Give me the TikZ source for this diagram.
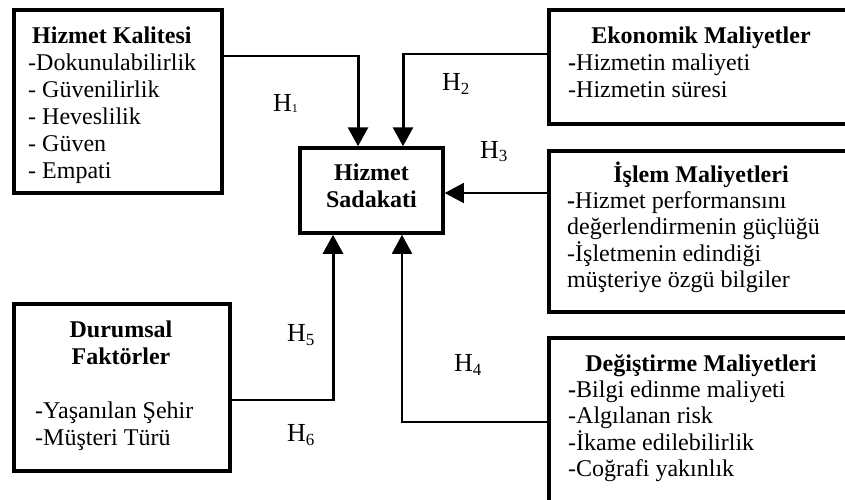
\documentclass[tikz,border=0pt]{standalone}
\usepackage{fontspec}
\setmainfont{Liberation Serif}
\usetikzlibrary{arrows.meta}
\newcommand{\txtblk}[2][27pt]{\parbox[t]{290pt}{\fontsize{24}{#1}\selectfont\raggedright #2}}
\newcommand{\ctrblk}[1]{\parbox[t]{220pt}{\fontsize{24}{27}\selectfont\centering\bfseries #1}}
\newcommand{\hyp}[1]{H\raisebox{-3.5pt}{\fontsize{17}{17}\selectfont #1}}
\begin{document}
\begin{tikzpicture}[x=1pt,y=-1pt,
  box/.style={draw, line width=3.5pt, inner sep=0pt, rectangle},
  txt/.style={inner sep=0pt, font=\fontsize{24}{27}\selectfont},
  hlab/.style={inner sep=0pt, anchor=base west, font=\fontsize{26}{28}\selectfont},
  thinl/.style={line width=1.3pt},
  medl/.style={line width=1.9pt},
  thickl/.style={line width=3pt},
  tip/.style={-{Triangle[width=20pt,length=19pt]}}]
\clip (0,0) rectangle (845,499);
\fill[white] (0,0) rectangle (845,499);
% boxes
\node[box, minimum width=208pt, minimum height=183pt] (HK) at (118,101.5) {};
\node[box, minimum width=143pt, minimum height=85pt] (SK) at (371.5,190.5) {};
\node[box, minimum width=216pt, minimum height=167pt] (DF) at (122,387.5) {};
\node[box, minimum width=304pt, minimum height=114pt] (EM) at (701,67) {};
\node[box, minimum width=304pt, minimum height=161pt] (IM) at (701,231.5) {};
\node[box, minimum width=304pt, minimum height=182pt] (DM) at (701,429) {};
% texts
\node[txt, anchor=base west] (HKt) at (32,43) {\textbf{Hizmet Kalitesi}};
\node[txt, anchor=base west] (HKi) at (28,70) {\txtblk{-Dokunulabilirlik\\- Güvenilirlik\\- Heveslilik\\- Güven\\- Empati}};
\node[txt, anchor=base] (SKt) at (371.5,180) {\ctrblk{Hizmet\\Sadakati}};
\node[txt, anchor=base] (DFt) at (121,337) {\ctrblk{Durumsal\\Faktörler}};
\node[txt, anchor=base west] (DFi) at (35,418) {\txtblk{-Yaşanılan Şehir\\-Müşteri Türü}};
\node[txt, anchor=base] (EMt) at (701,43) {\textbf{Ekonomik Maliyetler}};
\node[txt, anchor=base west] (EMi) at (568,70) {\txtblk{\textbf{-}Hizmetin maliyeti\\-Hizmetin süresi}};
\node[txt, anchor=base] (IMt) at (701,182.5) {\textbf{İşlem Maliyetleri}};
\node[txt, anchor=base west] (IMi) at (567,208.5) {\txtblk[26.3pt]{\textbf{-}Hizmet performansını\\değerlendirmenin güçlüğü\\-İşletmenin edindiği\\müşteriye özgü bilgiler}};
\node[txt, anchor=base] (DMt) at (701,371) {\textbf{Değiştirme Maliyetleri}};
\node[txt, anchor=base west] (DMi) at (568,397) {\txtblk[26.5pt]{\textbf{-}Bilgi edinme maliyeti\\-Algılanan risk\\-İkame edilebilirlik\\-Coğrafi yakınlık}};
% hypothesis labels
\node[hlab] (H1) at (273,111.7) {H\raisebox{-1pt}{\fontsize{12}{12}\selectfont 1}};
\node[hlab] (H2) at (442,90.7) {\hyp{2}};
\node[hlab] (H3) at (480,158) {\hyp{3}};
\node[hlab] (H4) at (454,371.7) {\hyp{4}};
\node[hlab] (H5) at (287,341.7) {\hyp{5}};
\node[hlab] (H6) at (287,441.7) {\hyp{6}};
% connectors
\coordinate (k1) at (358,56);
\coordinate (k1e) at (359.5,56);
\draw[thinl] (HK.east |- k1) -- (k1e);
\draw[thickl, tip] (k1) -- (k1 |- SK.north);
\coordinate (k2) at (403,54);
\coordinate (k2e) at (401.5,54);
\draw[thinl] (EM.west |- k2) -- (k2e);
\draw[thickl, tip] (k2) -- (k2 |- SK.north);
\coordinate (k3) at (500,193);
\draw[thinl, tip] (IM.west |- k3) -- (SK.east |- k3);
\coordinate (k4) at (402,422);
\coordinate (k4e) at (401.3,422);
\draw[thinl] (DM.west |- k4) -- (k4e);
\draw[medl, tip] (k4) -- (k4 |- SK.south);
\coordinate (k5) at (333,400);
\coordinate (k5e) at (334.5,400);
\draw[thinl] (DF.east |- k5) -- (k5e);
\draw[thickl, tip] (k5) -- (k5 |- SK.south);
\end{tikzpicture}
\end{document}
